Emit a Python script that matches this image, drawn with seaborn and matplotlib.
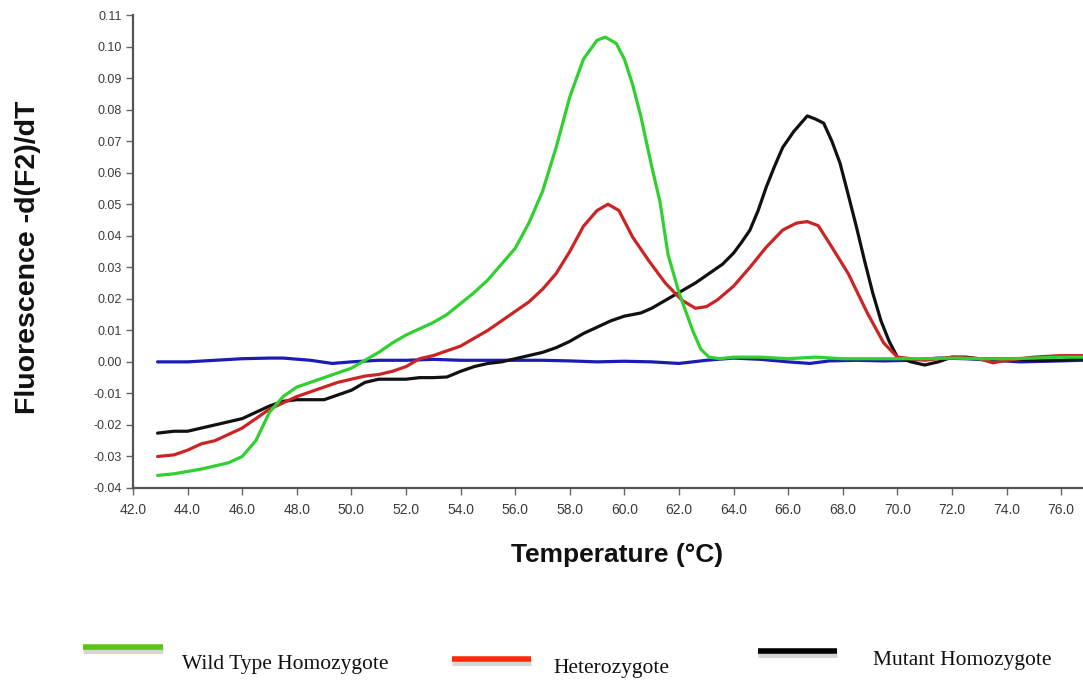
import numpy as np
import pandas as pd
import matplotlib
matplotlib.use("Agg")
import matplotlib.pyplot as plt
import matplotlib.patheffects as pe
from matplotlib.lines import Line2D
from matplotlib.ticker import FuncFormatter
import seaborn as sns

# Melt-curve derivative data (temperature in °C, -d(F2)/dT)
wt_temp = [42.9, 43.5, 44.5, 45.5, 46.0, 46.5, 47.0, 47.5, 48.0, 48.5, 49.0, 49.5,
           50.0, 50.5, 51.0, 51.5, 52.0, 52.5, 53.0, 53.5, 54.0, 54.5, 55.0, 55.5,
           56.0, 56.5, 57.0, 57.5, 58.0, 58.5, 59.0, 59.3, 59.7, 60.0, 60.3, 60.6,
           61.0, 61.3, 61.6, 62.0, 62.5, 62.8, 63.1, 63.5, 64.0, 65.0, 66.0, 67.0,
           68.0, 69.0, 70.0, 71.0, 72.0, 73.0, 74.0, 75.0, 76.0, 76.8]
wt_val = [-0.036, -0.0355, -0.034, -0.032, -0.030, -0.025, -0.016, -0.011, -0.008,
          -0.0065, -0.005, -0.0035, -0.002, 0.0005, 0.003, 0.006, 0.0085, 0.0105,
          0.0125, 0.015, 0.0185, 0.022, 0.026, 0.031, 0.036, 0.044, 0.054, 0.068,
          0.084, 0.096, 0.102, 0.103, 0.101, 0.096, 0.088, 0.078, 0.062, 0.051,
          0.034, 0.022, 0.010, 0.004, 0.0015, 0.001, 0.0015, 0.0015, 0.001, 0.0015,
          0.001, 0.001, 0.001, 0.001, 0.0012, 0.001, 0.001, 0.0012, 0.0015, 0.0015]

het_temp = [42.9, 43.5, 44.0, 44.5, 45.0, 45.5, 46.0, 46.5, 47.0, 47.5, 48.0, 48.5,
            49.0, 49.5, 50.0, 50.5, 51.0, 51.5, 52.0, 52.5, 53.0, 53.5, 54.0, 54.5,
            55.0, 55.5, 56.0, 56.5, 57.0, 57.5, 58.0, 58.5, 59.0, 59.4, 59.8, 60.3,
            60.9, 61.5, 62.1, 62.6, 63.0, 63.4, 64.0, 64.6, 65.2, 65.8, 66.3, 66.7,
            67.1, 67.6, 68.2, 68.9, 69.5, 70.0, 70.5, 71.0, 72.0, 73.0, 73.5, 74.0,
            75.0, 76.0, 76.8]
het_val = [-0.030, -0.0295, -0.028, -0.026, -0.025, -0.023, -0.021, -0.018, -0.015,
           -0.013, -0.011, -0.0095, -0.008, -0.0065, -0.0055, -0.0045, -0.004, -0.003,
           -0.0015, 0.001, 0.002, 0.0035, 0.005, 0.0075, 0.010, 0.013, 0.016, 0.019,
           0.023, 0.028, 0.035, 0.043, 0.048, 0.050, 0.048, 0.0396, 0.032, 0.025,
           0.0196, 0.017, 0.0175, 0.0196, 0.024, 0.030, 0.0364, 0.0418, 0.044, 0.0445,
           0.0432, 0.0364, 0.028, 0.0155, 0.006, 0.0015, 0.001, 0.0005, 0.0015, 0.001,
           -0.0003, 0.0005, 0.0015, 0.002, 0.002]

mut_temp = [42.9, 43.5, 44.0, 44.5, 45.0, 45.5, 46.0, 46.5, 47.0, 47.5, 48.0, 48.5,
            49.0, 49.5, 50.0, 50.5, 51.0, 51.5, 52.0, 52.5, 53.0, 53.5, 54.0, 54.5,
            55.0, 55.5, 56.0, 56.5, 57.0, 57.5, 58.0, 58.5, 59.0, 59.5, 60.0, 60.6,
            61.0, 61.5, 62.1, 62.6, 63.1, 63.6, 64.0, 64.3, 64.6, 64.9, 65.2, 65.5,
            65.8, 66.2, 66.7, 67.0, 67.3, 67.6, 67.9, 68.2, 68.5, 68.8, 69.1, 69.4,
            69.7, 70.0, 70.5, 71.0, 71.5, 72.0, 72.5, 73.0, 74.0, 75.0, 76.0, 76.8]
mut_val = [-0.0226, -0.022, -0.022, -0.021, -0.020, -0.019, -0.018, -0.016, -0.014,
           -0.0125, -0.012, -0.012, -0.012, -0.0105, -0.009, -0.0065, -0.0055, -0.0055,
           -0.0055, -0.005, -0.005, -0.0048, -0.003, -0.0015, -0.0005, 0.0, 0.001,
           0.002, 0.003, 0.0045, 0.0065, 0.009, 0.011, 0.013, 0.0145, 0.0155, 0.017,
           0.0195, 0.0225, 0.025, 0.028, 0.031, 0.0345, 0.038, 0.0418, 0.048, 0.0555,
           0.062, 0.068, 0.073, 0.078, 0.077, 0.0757, 0.070, 0.063, 0.053, 0.0428,
           0.032, 0.0218, 0.013, 0.0065, 0.0015, 0.0, -0.001, 0.0, 0.0015, 0.0015,
           0.001, 0.001, 0.0005, 0.0005, 0.001]

ntc_temp = [42.9, 44.0, 45.0, 46.0, 47.0, 47.5, 48.5, 49.3, 50.0, 51.0, 52.0, 53.0,
            54.0, 55.0, 56.0, 57.0, 58.0, 59.0, 60.0, 61.0, 62.0, 63.0, 64.0, 65.0,
            66.0, 66.8, 67.5, 68.5, 69.5, 70.5, 71.5, 72.5, 73.5, 74.5, 75.5, 76.8]
ntc_val = [0.0, 0.0, 0.0005, 0.001, 0.0012, 0.0012, 0.0005, -0.0005, 0.0, 0.0005,
           0.0005, 0.0008, 0.0005, 0.0005, 0.0005, 0.0005, 0.0003, 0.0, 0.0002, 0.0,
           -0.0005, 0.0005, 0.0012, 0.0008, 0.0, -0.0005, 0.0003, 0.0005, 0.0003,
           0.0005, 0.0012, 0.001, 0.0005, 0.0, 0.0002, 0.0005]

samples = ["Wild Type Homozygote", "Heterozygote", "Mutant Homozygote", "NTC"]
line_colors = {"Wild Type Homozygote": "#2fd02f", "Heterozygote": "#cc2424",
               "Mutant Homozygote": "#111111", "NTC": "#1c1cb4"}
legend_colors = {"Wild Type Homozygote": "#5cc415", "Heterozygote": "#ff2a0a",
                 "Mutant Homozygote": "#000000"}

x_ticks = np.arange(42.0, 76.1, 2.0)
y_ticks = np.round(np.arange(-0.04, 0.1101, 0.01), 2)

frames = []
for name, t, v in [(samples[3], ntc_temp, ntc_val),
                   (samples[2], mut_temp, mut_val),
                   (samples[1], het_temp, het_val),
                   (samples[0], wt_temp, wt_val)]:
    frames.append(pd.DataFrame({"temp": t, "value": v, "sample": name}))
df = pd.concat(frames, ignore_index=True)

sns.set_theme(style="ticks")
plt.rcParams["font.family"] = ["Liberation Sans", "DejaVu Sans"]

W, H = 1083, 682
fig = plt.figure(figsize=(W / 100, H / 100), dpi=100)
ax = fig.add_axes([133 / W, 1 - 488 / H, (W - 133) / W, (488 - 15) / H])

sns.lineplot(data=df, x="temp", y="value", hue="sample", palette=line_colors,
             estimator=None, sort=False, linewidth=2.3, legend=False, ax=ax)

ax.set_xlim(42.0, 76.8)
ax.set_ylim(-0.04, 0.11)
ax.set_xticks(x_ticks)
ax.set_yticks(y_ticks)
ax.xaxis.set_major_formatter(FuncFormatter(lambda v, p: f"{round(v, 1) + 0:.1f}"))
ax.yaxis.set_major_formatter(FuncFormatter(lambda v, p: f"{round(v, 3) + 0:.2f}"))
ax.tick_params(axis="both", direction="out", length=5, width=1.0, colors="#666666",
               labelcolor="#3a3a3a", pad=3)
ax.tick_params(axis="y", labelsize=9)
ax.tick_params(axis="x", labelsize=10, pad=6)
for side in ("top", "right"):
    ax.spines[side].set_visible(False)
for side in ("left", "bottom"):
    ax.spines[side].set_color("#555555")
    ax.spines[side].set_linewidth(1.6)
ax.set_xlabel("")
ax.set_ylabel("")

fig.text(28 / W, 1 - 257 / H, "Fluorescence -d(F2)/dT", rotation=90,
         fontsize=20.5, fontweight="bold", color="#111111", ha="center", va="center")
fig.text(617 / W, 1 - 555 / H, "Temperature (°C)", fontsize=19,
         fontweight="bold", color="#111111", ha="center", va="center")

# Legend drawn beneath the plot
legend_items = [
    ("Wild Type Homozygote", 83, 163, 647, 182, 664),
    ("Heterozygote", 452, 531, 659, 553, 668),
    ("Mutant Homozygote", 758, 837, 651, 873, 660),
]
for name, x0, x1, ly, tx, ty in legend_items:
    ln = Line2D([x0 / W, x1 / W], [1 - ly / H, 1 - ly / H], transform=fig.transFigure,
                color=legend_colors[name], linewidth=4, solid_capstyle="butt",
                path_effects=[pe.SimpleLineShadow(offset=(0, -2.5), shadow_color="#888888",
                                                  alpha=0.35, linewidth=5),
                              pe.Normal()])
    fig.add_artist(ln)
    fig.text(tx / W, 1 - ty / H, name, fontsize=15.5, family="Liberation Serif",
             color="#111111", ha="left", va="center")

fig.savefig("out.png", dpi=100, facecolor="white")
